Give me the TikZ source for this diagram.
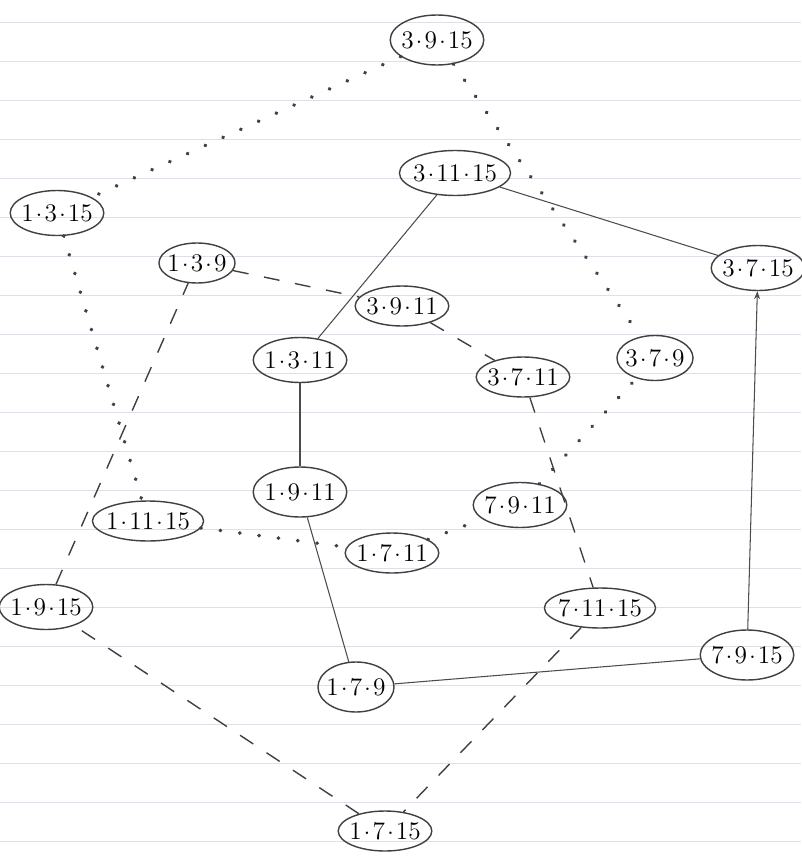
\documentclass[tikz,border=0pt]{standalone}
\usepackage{fontspec}
\usetikzlibrary{positioning, arrows.meta, shapes.geometric}
\newcommand{\pd}{\kern0.08em\raisebox{0.42ex}{.}\kern0.08em}

\begin{document}
\begin{tikzpicture}[
  x=0.02cm, y=-0.02cm,
  >={Stealth[length=1.6mm]},
  every node/.style={font=\Large},
  vtx/.style     = {ellipse, draw=black!75, thick, inner xsep=-1.5pt, inner ysep=0pt, minimum width=1.35cm, minimum height=0.9cm},
  paper/.style   = {draw=blue!15!gray!22, line width=0.5pt},
  plain/.style   = {draw=black!70, semithick},
  dashy/.style   = {draw=black!75, thick, dash pattern=on 9pt off 9pt},
  dotty/.style   = {draw=black!75, line width=2.2pt, line cap=round, dash pattern=on 0.1pt off 11pt},
]
  \useasboundingbox (0,0) rectangle (801,865);
  % ruled paper
  \foreach \yy in {22,61,100,139,178,217,256,295,334,373,412,451,490,529,568,607,646,685,724,763,802,841}
     \draw[paper] (0,\yy) -- (801,\yy);

  % vertices, top to bottom
  \node[vtx, minimum width=1.85cm, minimum height=1cm] (a3915) at (437,40)  {3\pd9\pd15};
  \node[vtx, minimum width=1.6cm]  (a31115) at (455,173) {3\pd11\pd15};
  \node[vtx, minimum width=1.5cm]  (a1315)  at (57,213)  {1\pd3\pd15};
  \node[vtx, minimum width=1.5cm, minimum height=0.8cm] (a139) at (197,263) {1\pd3\pd9};
  \node[vtx, minimum width=1.5cm]  (a3715)  at (758,268) {3\pd7\pd15};
  \node[vtx, minimum height=0.8cm] (a3911)  at (402,306) {3\pd9\pd11};
  \node[vtx]                       (a1311)  at (300,360) {1\pd3\pd11};
  \node[vtx, minimum height=0.8cm] (a3711)  at (523,377) {3\pd7\pd11};
  \node[vtx]                       (a379)   at (655,358) {3\pd7\pd9};
  \node[vtx, minimum height=1cm]   (a1911)  at (300,492) {1\pd9\pd11};
  \node[vtx]                       (a7911)  at (520,505) {7\pd9\pd11};
  \node[vtx, minimum width=1.45cm, minimum height=0.8cm] (a11115) at (148,521) {1\pd11\pd15};
  \node[vtx, minimum width=1.45cm, minimum height=0.8cm] (a1711)  at (392,553) {1\pd7\pd11};
  \node[vtx, minimum width=1.5cm]  (a1915)  at (46,607)  {1\pd9\pd15};
  \node[vtx, minimum width=1.5cm, minimum height=0.8cm] (a71115) at (600,608) {7\pd11\pd15};
  \node[vtx, minimum width=1.5cm, minimum height=1cm] (a7915) at (747,655) {7\pd9\pd15};
  \node[vtx, minimum height=1cm]   (a179)   at (356,687) {1\pd7\pd9};
  \node[vtx, minimum height=0.8cm] (a1715)  at (385,831) {1\pd7\pd15};

  % solid edges
  \foreach \a/\b in {a31115/a1311, a31115/a3715, a1311/a1911, a1911/a179, a179/a7915}
     \draw[plain] (\a) -- (\b);
  \draw[plain, ->] (a7915) -- (a3715);

  % dashed edges
  \foreach \a/\b in {a139/a3911, a3911/a3711, a3711/a71115, a71115/a1715, a1715/a1915, a1915/a139}
     \draw[dashy] (\a) -- (\b);

  % dotted edges
  \foreach \a/\b in {a3915/a1315, a3915/a379, a1315/a11115, a11115/a1711, a1711/a7911, a7911/a379}
     \draw[dotty] (\a) -- (\b);
\end{tikzpicture}
\end{document}
